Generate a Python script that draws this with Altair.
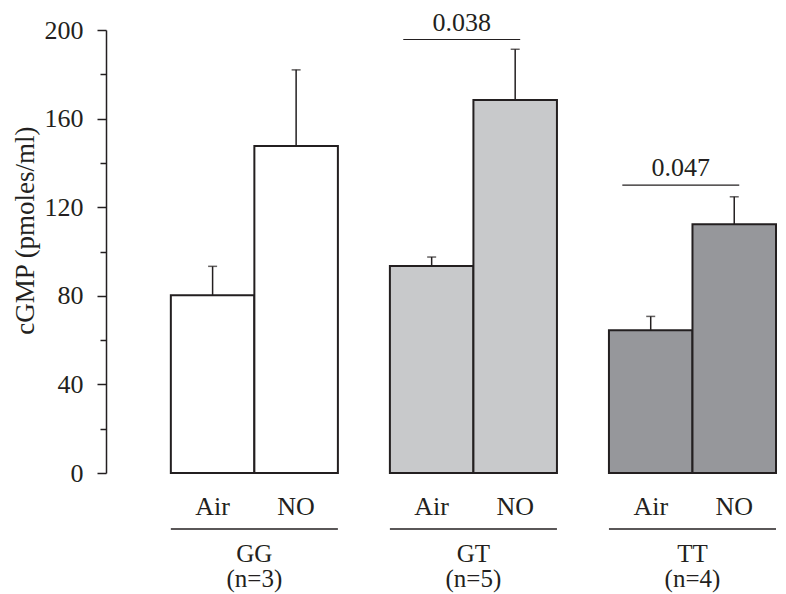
import altair as alt
import pandas as pd

genotypes = ["GG", "GT", "TT"]
n_counts = [3, 5, 4]
treatments = ["Air", "NO"]
means_air = [80.3, 93.4, 64.4]
means_no = [147.6, 168.4, 112.3]
sem_air = [13.0, 4.1, 6.3]
sem_no = [34.4, 22.9, 12.4]
fill_colors = ["#ffffff", "#c8c9cb", "#96979b"]
sig_genotypes = ["GT", "TT"]
sig_labels = ["0.038", "0.047"]
sig_levels = [195.7, 130.0]
y_ticks = list(range(0, 201, 10))

FONT = "Liberation Serif, Times New Roman, serif"
INK = "#231f20"

rows = []
for i, g in enumerate(genotypes):
    for t, m, s in (("Air", means_air[i], sem_air[i]), ("NO", means_no[i], sem_no[i])):
        rows.append({"genotype": g, "treatment": t, "mean": m, "upper": m + s})
df = pd.DataFrame(rows)
df_g = pd.DataFrame({"genotype": genotypes,
                     "n_label": [f"(n={n})" for n in n_counts]})
df_sig = pd.DataFrame({"genotype": sig_genotypes, "p": sig_labels, "level": sig_levels})

x_scale = alt.Scale(domain=genotypes, paddingInner=0.2374, paddingOuter=0.148, align=1)
xo_scale = alt.Scale(domain=treatments, paddingInner=0, paddingOuter=0)
y_scale = alt.Scale(domain=[0, 200], nice=False)

x_main = alt.X("genotype:N", scale=x_scale, title=None,
               axis=alt.Axis(labels=False, ticks=False, domainColor=INK, domainWidth=1.5, grid=False))
x_plain = alt.X("genotype:N", scale=x_scale, axis=None, title=None)
xo = alt.XOffset("treatment:N", scale=xo_scale)

bars = alt.Chart(df).mark_bar(stroke=INK, strokeWidth=2).encode(
    x=x_main,
    xOffset=xo,
    y=alt.Y("mean:Q", scale=y_scale, title="cGMP (pmoles/ml)",
            axis=alt.Axis(values=y_ticks,
                          labelExpr="datum.value % 40 === 0 ? datum.label : ''",
                          tickSize={"condition": {"test": "datum.value % 40 === 0", "value": 9}, "value": 6},
                          tickColor=INK, tickWidth=1.5, domainColor=INK, domainWidth=1.5,
                          labelFont=FONT, labelFontSize=26, labelColor=INK, labelPadding=14,
                          titleFont=FONT, titleFontSize=27, titleFontWeight="normal",
                          titleColor=INK, titlePadding=5, titleY=200, grid=False)),
    fill=alt.Fill("genotype:N", scale=alt.Scale(domain=genotypes, range=fill_colors), legend=None),
)

err = alt.Chart(df).mark_rule(color=INK, strokeWidth=1.5).encode(
    x=x_plain, xOffset=xo,
    y=alt.Y("mean:Q", scale=y_scale), y2="upper:Q",
)
caps = alt.Chart(df).mark_tick(color=INK, thickness=1.5, size=9).encode(
    x=x_plain, xOffset=xo,
    y=alt.Y("upper:Q", scale=y_scale),
)

treat_labels = alt.Chart(df).mark_text(font=FONT, fontSize=26, color=INK, baseline="alphabetic").encode(
    x=x_plain, xOffset=xo, y=alt.value(485), text="treatment:N",
)
underlines = alt.Chart(df_g).mark_rule(color=INK, strokeWidth=1.5).encode(
    x=alt.X("genotype:N", scale=x_scale, axis=None, bandPosition=0),
    x2=alt.X2("genotype", bandPosition=1),
    y=alt.value(499),
)
group_labels = alt.Chart(df_g).mark_text(font=FONT, fontSize=25, color=INK, baseline="alphabetic").encode(
    x=x_plain, y=alt.value(532), text="genotype:N",
)
n_labels = alt.Chart(df_g).mark_text(font=FONT, fontSize=25, color=INK, baseline="alphabetic").encode(
    x=x_plain, y=alt.value(557), text="n_label:N",
)

sig_lines = alt.Chart(df_sig).mark_rule(color=INK, strokeWidth=1.2).encode(
    x=alt.X("genotype:N", scale=x_scale, axis=None, bandPosition=0.08),
    x2=alt.X2("genotype", bandPosition=0.78),
    y=alt.Y("level:Q", scale=y_scale),
)
sig_text = alt.Chart(df_sig).mark_text(font=FONT, fontSize=26, color=INK, baseline="alphabetic", dy=-9).encode(
    x=alt.X("genotype:N", scale=x_scale, axis=None, bandPosition=0.43),
    y=alt.Y("level:Q", scale=y_scale),
    text="p:N",
)

chart = alt.layer(bars, err, caps, treat_labels, underlines, group_labels, n_labels,
                  sig_lines, sig_text).properties(
    width=670, height=443,
    padding={"left": 98, "top": 22, "right": 2, "bottom": 121},
    autosize="none",
    background="white",
).configure_view(stroke=None)

chart.save("out.html", embed_options={"renderer": "svg", "actions": False})
